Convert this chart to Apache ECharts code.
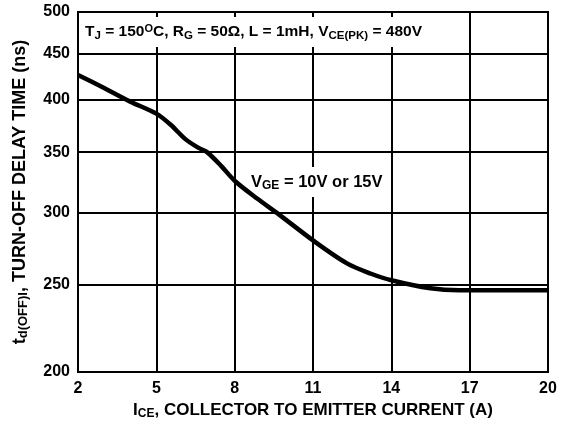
<!DOCTYPE html>
<html><head><meta charset="utf-8">
<script src="https://cdn.jsdelivr.net/npm/echarts@6/dist/echarts.min.js"></script>
<style>html,body{margin:0;padding:0;background:#fff}#c{width:563px;height:428px}</style>
</head><body><div id="c"></div>
<script>
var xTicks = [2, 5, 8, 11, 14, 17, 20];
var yTicks = [200, 250, 300, 350, 400, 450, 500];
var currentA = [2, 3, 4, 5, 5.56, 6.1, 6.6, 6.94, 7.48, 8.02, 8.86, 9.74, 11.0, 12.3, 13.2, 14.0, 15.5, 16.6, 20];
var delayNs = [426, 412, 398, 386, 375, 362, 354, 350, 338, 325, 311, 298, 279.6, 263.7, 257, 252.6, 247.5, 246.3, 246.3];

var F = 'Liberation Sans, Arial, sans-serif';
var chart = echarts.init(document.getElementById('c'));
var data = currentA.map(function (x, i) { return [x, delayNs[i]]; });
chart.setOption({
  animation: false,
  grid: { left: 78, right: 15, top: 12, bottom: 56 },
  xAxis: {
    type: 'value', min: 2, max: 20, interval: 3,
    name: '{i|I}{s|CE}{i|, COLLECTOR TO EMITTER CURRENT (A)}',
    nameLocation: 'middle', nameGap: 21,
    nameTextStyle: { rich: {
      i: { fontFamily: F, fontWeight: 'bold', fontSize: 17, color: '#000' },
      s: { fontFamily: F, fontWeight: 'bold', fontSize: 12, color: '#000', verticalAlign: 'bottom', padding: [7, 0, 0, 0] }
    } },
    axisLine: { show: true, lineStyle: { color: '#000', width: 2 } },
    axisTick: { show: false },
    axisLabel: { fontFamily: F, fontWeight: 'bold', fontSize: 16, color: '#000', margin: 9 },
    splitLine: { show: true, lineStyle: { color: '#000', width: 2 } }
  },
  yAxis: {
    type: 'log', logBase: 10, min: 200, max: 500,
    name: '{i|t}{s|d(OFF)I}{i|, TURN-OFF DELAY TIME (ns)}',
    nameLocation: 'middle', nameGap: 48, nameRotate: 90,
    nameTextStyle: { rich: {
      i: { fontFamily: F, fontWeight: 'bold', fontSize: 18, color: '#000' },
      s: { fontFamily: F, fontWeight: 'bold', fontSize: 13, color: '#000', verticalAlign: 'bottom', padding: [7, 0, 0, 0] }
    } },
    axisLine: { show: true, lineStyle: { color: '#000', width: 2 } },
    axisTick: { show: false, customValues: yTicks },
    axisLabel: { customValues: yTicks, fontFamily: F, fontWeight: 'bold', fontSize: 16, color: '#000', margin: 8 },
    splitLine: { show: true, lineStyle: { color: '#000', width: 2 } }
  },
  graphic: [
    { type: 'rect', shape: { x: 78, y: 12, width: 470, height: 360 }, style: { fill: 'none', stroke: '#000', lineWidth: 2 }, z: 50, silent: true },
    { type: 'text', left: 80, top: 17, z: 40,
      style: { text: '{a|T}{b|J}{a| = 150}{c|O}{a|C, R}{b|G}{a| = 50Ω, L = 1mH, V}{b|CE(PK)}{a| = 480V}',
        backgroundColor: '#fff', padding: [5, 6, 5, 5],
        rich: {
          a: { fontFamily: F, fontWeight: 'bold', fontSize: 15.5, color: '#000' },
          b: { fontFamily: F, fontWeight: 'bold', fontSize: 11.5, color: '#000', padding: [8, 0, 0, 0] },
          c: { fontFamily: F, fontWeight: 'bold', fontSize: 11, color: '#000', padding: [0, 0, 7, 0] }
        } } },
    { type: 'text', left: 247, top: 167, z: 40,
      style: { text: '{a|V}{b|GE}{a| = 10V or 15V}',
        backgroundColor: '#fff', padding: [5, 4, 5, 4],
        rich: {
          a: { fontFamily: F, fontWeight: 'bold', fontSize: 16.5, color: '#000' },
          b: { fontFamily: F, fontWeight: 'bold', fontSize: 12, color: '#000', padding: [8, 0, 0, 0] }
        } } }
  ],
  series: [{
    type: 'line', data: data, showSymbol: false, smooth: 0.3,
    lineStyle: { color: '#000', width: 4.5 }, z: 45
  }]
});
</script></body></html>
